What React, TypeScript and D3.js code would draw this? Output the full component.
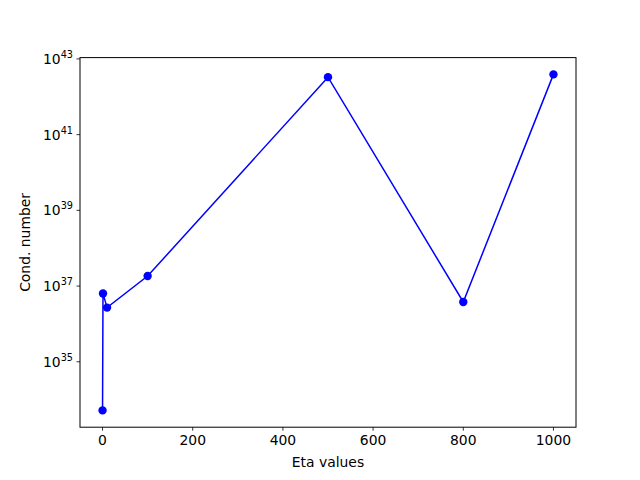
import React from "react";
import * as d3 from "d3";

const etaValues = [0, 1, 10, 100, 500, 800, 1000];
const condNumbers = [5.2e33, 6.4e36, 2.7e36, 1.84e37, 3.3e42, 3.8e36, 3.9e42];
const xTicks = [0, 200, 400, 600, 800, 1000];
const yTickExps = [35, 37, 39, 41, 43];

export default function App() {
  const W = 640, H = 480;
  const left = 80, right = 576, top = 57.6, bottom = 427.2;
  const xmin = d3.min(etaValues)!, xmax = d3.max(etaValues)!;
  const xm = (xmax - xmin) * 0.05;
  const x = d3.scaleLinear().domain([xmin - xm, xmax + xm]).range([left, right]);
  const lmin = Math.log10(d3.min(condNumbers)!), lmax = Math.log10(d3.max(condNumbers)!);
  const lm = (lmax - lmin) * 0.05;
  const y = d3.scaleLog().domain([Math.pow(10, lmin - lm), Math.pow(10, lmax + lm)]).range([bottom, top]);
  const pts = etaValues.map((e, i) => [x(e), y(condNumbers[i])] as [number, number]);
  const line = d3.line()(pts)!;
  const font = "DejaVu Sans, sans-serif";
  return (
    <svg width={W} height={H} style={{ position: "absolute", left: 0, top: 0, background: "#fff" }} fontFamily={font}>
      <rect x={0} y={0} width={W} height={H} fill="#fff" />
      <path d={line} fill="none" stroke="#0000ff" strokeWidth={1.5} />
      {pts.map((p, i) => (
        <circle key={i} cx={p[0]} cy={p[1]} r={4.2} fill="#0000ff" />
      ))}
      <rect x={left} y={top} width={right - left} height={bottom - top} fill="none" stroke="#000" strokeWidth={1} />
      {xTicks.map((t) => (
        <g key={t}>
          <line x1={x(t)} x2={x(t)} y1={bottom} y2={bottom + 3.5} stroke="#000" strokeWidth={0.8} />
          <text x={x(t)} y={bottom + 18} textAnchor="middle" fontSize={13.9} fill="#000">{t}</text>
        </g>
      ))}
      {yTickExps.map((e) => {
        const yy = y(Math.pow(10, e));
        return (
          <g key={e}>
            <line x1={left - 3.5} x2={left} y1={yy} y2={yy} stroke="#000" strokeWidth={0.8} />
            <text x={left - 7} y={yy + 5} textAnchor="end" fontSize={13.9} fill="#000">
              10<tspan fontSize={9.7} dy={-6}>{e}</tspan>
            </text>
          </g>
        );
      })}
      <text x={(left + right) / 2} y={467} textAnchor="middle" fontSize={13.9} fill="#000">Eta values</text>
      <text transform={`translate(30, ${(top + bottom) / 2}) rotate(-90)`} textAnchor="middle" fontSize={13.9} fill="#000">Cond. number</text>
    </svg>
  );
}
